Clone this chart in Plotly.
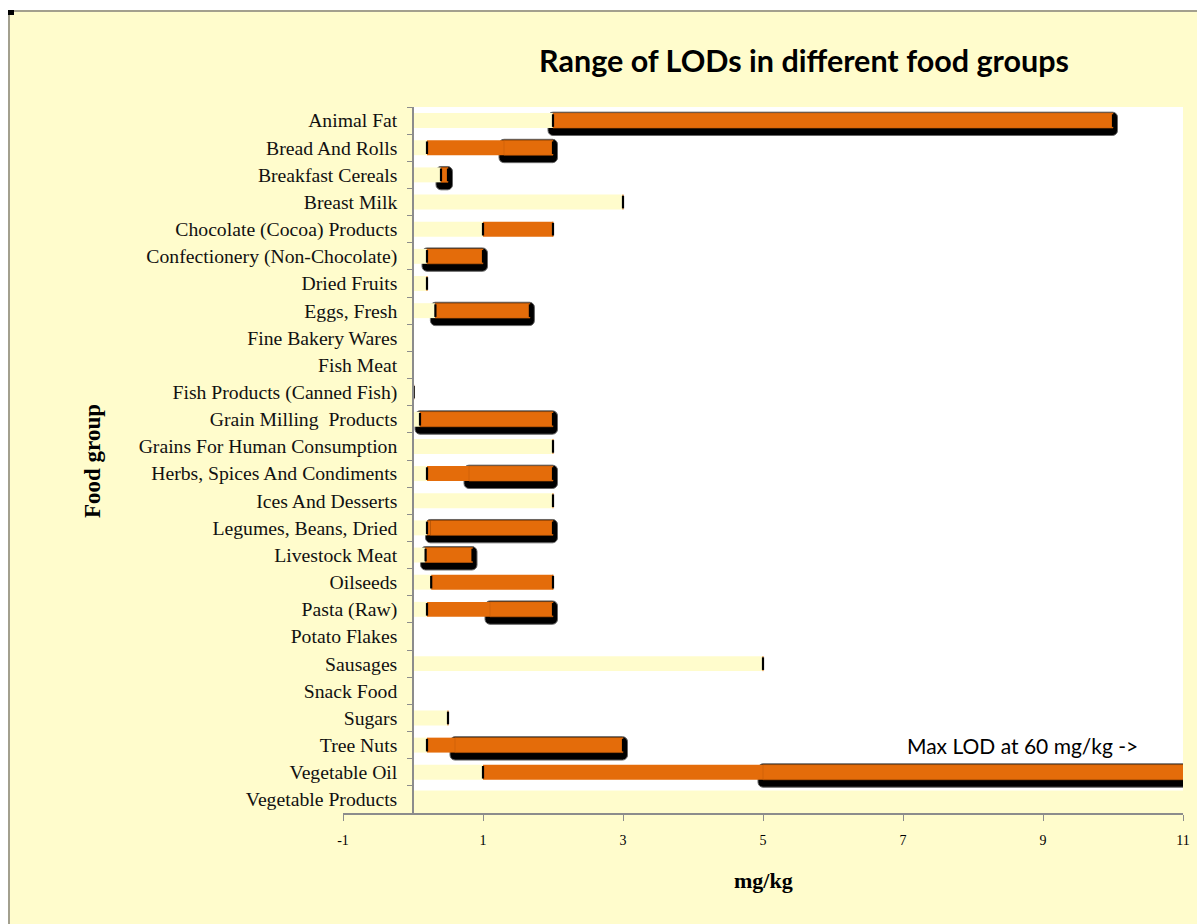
import plotly.graph_objects as go

categories = ["Animal Fat", "Bread And Rolls", "Breakfast Cereals", "Breast Milk",
              "Chocolate (Cocoa) Products", "Confectionery (Non-Chocolate)", "Dried Fruits",
              "Eggs, Fresh", "Fine Bakery Wares", "Fish Meat", "Fish Products (Canned Fish)",
              "Grain Milling  Products", "Grains For Human Consumption",
              "Herbs, Spices And Condiments", "Ices And Desserts", "Legumes, Beans, Dried",
              "Livestock Meat", "Oilseeds", "Pasta (Raw)", "Potato Flakes", "Sausages",
              "Snack Food", "Sugars", "Tree Nuts", "Vegetable Oil", "Vegetable Products"]

# minimum LOD (end of light-yellow bar)
lod_min = [2.0, 0.2, 0.4, 3.0, 1.0, 0.2, 0.2, 0.32, None, None, 0.01, 0.1, 2.0,
           0.2, 2.0, 0.2, 0.18, 0.26, 0.2, None, 5.0, None, 0.5, 0.2, 1.0, None]
# start of the shadowed orange segment
lod_split = [2.0, 1.3, 0.4, 3.0, 2.0, 0.2, 0.2, 0.32, None, None, 0.01, 0.1, 2.0,
             0.8, 2.0, 0.25, 0.18, 2.0, 1.1, None, 5.0, None, 0.5, 0.6, 5.0, None]
# maximum LOD (end of orange bar)
lod_max = [10.0, 2.0, 0.5, 3.0, 2.0, 1.0, 0.2, 1.67, None, None, 0.01, 2.0, 2.0,
           2.0, 2.0, 2.0, 0.85, 2.0, 2.0, None, 5.0, None, 0.5, 3.0, 60.0, None]

x_ticks = [-1, 1, 3, 5, 7, 9, 11]

YELLOW = "#FFFCCC"
ORANGE = "#E46C0A"
W = 1197
H = 924
L, R, T, B = 343, 14, 107, 111
PW = W - L - R
PH = H - T - B
UNIT_PX = PW / 12.0
N = len(categories)


def diff(a, b):
    return [None if (x is None or y is None) else y - x for x, y in zip(a, b)]


bar_w = 0.55
bar_off = -bar_w / 2

fig = go.Figure()

# shadow behind the shadowed segment
sh_base, sh_len = [], []
for s, m in zip(lod_split, lod_max):
    if s is None or m is None or m <= s:
        sh_base.append(None)
        sh_len.append(None)
    else:
        sh_base.append(s - 5 / UNIT_PX)
        sh_len.append(m - s + 9.5 / UNIT_PX)
fig.add_trace(go.Bar(
    y=categories, x=sh_len, base=sh_base, orientation="h",
    width=0.86, offset=-0.31,
    marker=dict(color="black", cornerradius=5, line=dict(color="#666666", width=1)),
    hoverinfo="skip", showlegend=False))

fig.add_trace(go.Bar(
    y=categories, x=lod_min, base=[0] * N, orientation="h",
    width=bar_w, offset=bar_off,
    marker=dict(color=YELLOW, line=dict(width=0)), showlegend=False, name="Min LOD"))

fig.add_trace(go.Bar(
    y=categories, x=diff(lod_min, lod_split), base=lod_min, orientation="h",
    width=bar_w, offset=bar_off,
    marker=dict(color=ORANGE, line=dict(width=0)), showlegend=False, name="Range"))

fig.add_trace(go.Bar(
    y=categories, x=diff(lod_split, lod_max), base=lod_split, orientation="h",
    width=bar_w, offset=bar_off,
    marker=dict(color=ORANGE, line=dict(color="#C85E08", width=0.6)), showlegend=False,
    name="Range (upper)"))

# small vertical marks at min and max
mx, my = [], []
for c, a, b in zip(categories, lod_min, lod_max):
    if a is not None:
        mx.append(a)
        my.append(c)
    if b is not None and a is not None and b > a:
        mx.append(b)
        my.append(c)
fig.add_trace(go.Scatter(
    x=mx, y=my, mode="markers",
    marker=dict(symbol="line-ns", size=9, line=dict(color="black", width=2.2)),
    showlegend=False, hoverinfo="skip"))

shapes = [
    # white plot area (x from 0 to 11)
    dict(type="rect", xref="x", yref="paper", x0=0, x1=11,
         y0=(813 - 790.5) / PH, y1=1,
         fillcolor="white", line=dict(width=0), layer="below"),
    # white strips outside the chart frame
    dict(type="rect", xref="paper", yref="paper", x0=-L / PW - 0.01, x1=(W - L) / PW + 0.01,
         y0=(T + PH - 10) / PH, y1=(T + PH) / PH + 0.01,
         fillcolor="white", line=dict(width=0), layer="below"),
    dict(type="rect", xref="paper", yref="paper", x0=-L / PW - 0.01, x1=(8 - L) / PW,
         y0=-B / PH - 0.01, y1=(T + PH) / PH + 0.01,
         fillcolor="white", line=dict(width=0), layer="below"),
    # frame lines
    dict(type="line", xref="paper", yref="paper", x0=(9 - L) / PW, x1=(W - L) / PW + 0.01,
         y0=(T + PH - 11) / PH, y1=(T + PH - 11) / PH,
         line=dict(color="#A3A08E", width=2)),
    dict(type="line", xref="paper", yref="paper", x0=(9 - L) / PW, x1=(9 - L) / PW,
         y0=(T + PH - 11) / PH, y1=-B / PH - 0.01,
         line=dict(color="#A3A08E", width=2)),
    dict(type="rect", xref="paper", yref="paper", x0=(8 - L) / PW, x1=(14 - L) / PW,
         y0=(T + PH - 15) / PH, y1=(T + PH - 10) / PH,
         fillcolor="black", line=dict(width=0)),
]

annotations = [
    dict(text="Max LOD at 60 mg/kg ->", x=7.03, y="Tree Nuts", xref="x", yref="y",
         xanchor="left", yanchor="middle", showarrow=False,
         font=dict(family="Lato, Carlito, sans-serif", size=21, color="black")),
    dict(text="<b>mg/kg</b>", x=0.5, y=-(880 - 813) / PH, xref="paper", yref="paper",
         xanchor="center", yanchor="middle", showarrow=False,
         font=dict(family="Liberation Serif, Times New Roman, serif", size=22, color="black")),
    dict(text="<b>Food group</b>", x=(92 - L) / PW, y=(813 - 461) / PH, xref="paper",
         yref="paper", xanchor="center", yanchor="middle", showarrow=False, textangle=-90,
         font=dict(family="Liberation Serif, Times New Roman, serif", size=23, color="black")),
]

fig.update_layout(
    width=W, height=H,
    margin=dict(l=L, r=R, t=T, b=B, autoexpand=False),
    paper_bgcolor=YELLOW, plot_bgcolor=YELLOW,
    barmode="overlay",
    title=dict(text="<b>Range of LODs in different food groups</b>",
               x=804 / W, xref="container", xanchor="center",
               y=1 - 61 / H, yref="container", yanchor="middle",
               font=dict(family="Lato, Carlito, sans-serif", size=30.5, color="black")),
    xaxis=dict(range=[-1, 11], tickvals=x_ticks, ticktext=[str(v) for v in x_ticks],
               showgrid=False, zeroline=False, showline=True, linecolor="#8C8C8C",
               linewidth=1.5, ticks="outside", ticklen=6, tickcolor="#8C8C8C",
               ticklabelstandoff=7,
               tickfont=dict(family="Liberation Serif, Times New Roman, serif", size=14,
                             color="black"),
               domain=[0, 1], fixedrange=True),
    yaxis=dict(type="category", categoryorder="array", categoryarray=categories,
               range=[N - 0.5, -0.5], autorange=False, anchor="free", position=1 / 12,
               showgrid=False, zeroline=False, showline=True, linecolor="#8C8C8C",
               linewidth=1.5, ticks="outside", ticklen=5, tickcolor="#8C8C8C",
               tickson="boundaries", ticklabelstandoff=11,
               tickfont=dict(family="Liberation Serif, Times New Roman, serif", size=19.7,
                             color="#111111"),
               domain=[0, 1], fixedrange=True),
    shapes=shapes,
    annotations=annotations,
    showlegend=False,
)

fig.write_html("out.html",
               config={"displayModeBar": False},
               post_script="document.body.style.margin='0px';"
                           "document.body.style.padding='0px';"
                           "document.documentElement.style.overflow='hidden';")
